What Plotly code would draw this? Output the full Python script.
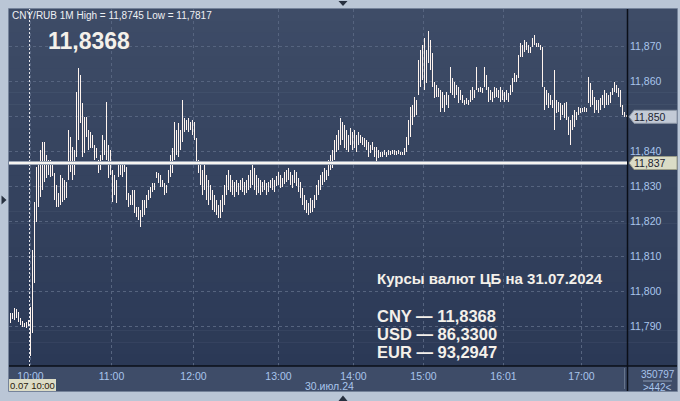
import plotly.graph_objects as go

# ---------------- data ----------------
HIGH = [
    11.7940, 11.7940, 11.7954, 11.7951, 11.7943, 11.7926, 11.7917, 11.7911, 11.7914, 11.7920,
    11.7957, 11.8120, 11.8257, 11.8357, 11.8363, 11.8405, 11.8428, 11.8428, 11.8391, 11.8377,
    11.8377, 11.8371, 11.8340, 11.8305, 11.8283, 11.8334, 11.8325, 11.8320, 11.8314, 11.8463,
    11.8443, 11.8414, 11.8405, 11.8571, 11.8640, 11.8620, 11.8540, 11.8500, 11.8500, 11.8463,
    11.8457, 11.8448, 11.8420, 11.8411, 11.8377, 11.8391, 11.8448, 11.8434, 11.8543, 11.8420,
    11.8405, 11.8348, 11.8334, 11.8320, 11.8363, 11.8368, 11.8363, 11.8368, 11.8357, 11.8283,
    11.8277, 11.8291, 11.8291, 11.8243, 11.8243, 11.8234, 11.8263, 11.8263, 11.8277, 11.8291,
    11.8300, 11.8311, 11.8311, 11.8343, 11.8340, 11.8334, 11.8320, 11.8311, 11.8305, 11.8348,
    11.8391, 11.8411, 11.8485, 11.8463, 11.8483, 11.8463, 11.8548, 11.8497, 11.8491, 11.8497,
    11.8485, 11.8491, 11.8485, 11.8440, 11.8377, 11.8363, 11.8348, 11.8363, 11.8334, 11.8320,
    11.8305, 11.8291, 11.8277, 11.8263, 11.8248, 11.8263, 11.8277, 11.8305, 11.8334, 11.8348,
    11.8334, 11.8320, 11.8314, 11.8320, 11.8311, 11.8320, 11.8325, 11.8314, 11.8320, 11.8334,
    11.8348, 11.8363, 11.8354, 11.8334, 11.8325, 11.8320, 11.8314, 11.8320, 11.8311, 11.8314,
    11.8320, 11.8325, 11.8320, 11.8331, 11.8343, 11.8334, 11.8325, 11.8343, 11.8348, 11.8354,
    11.8343, 11.8334, 11.8348, 11.8343, 11.8325, 11.8314, 11.8297, 11.8277, 11.8263, 11.8254,
    11.8268, 11.8263, 11.8277, 11.8305, 11.8320, 11.8334, 11.8343, 11.8354, 11.8348, 11.8377,
    11.8391, 11.8405, 11.8434, 11.8448, 11.8463, 11.8497, 11.8485, 11.8477, 11.8463, 11.8448,
    11.8468, 11.8457, 11.8463, 11.8448, 11.8457, 11.8448, 11.8443, 11.8440, 11.8434, 11.8428,
    11.8420, 11.8428, 11.8414, 11.8414, 11.8405, 11.8400, 11.8400, 11.8405, 11.8400, 11.8405,
    11.8403, 11.8405, 11.8405, 11.8403, 11.8405, 11.8400, 11.8400, 11.8411, 11.8443, 11.8491,
    11.8528, 11.8534, 11.8557, 11.8548, 11.8663, 11.8691, 11.8705, 11.8725, 11.8691, 11.8745,
    11.8720, 11.8683, 11.8600, 11.8591, 11.8583, 11.8577, 11.8571, 11.8563, 11.8571, 11.8563,
    11.8643, 11.8611, 11.8600, 11.8591, 11.8585, 11.8577, 11.8563, 11.8548, 11.8554, 11.8548,
    11.8577, 11.8585, 11.8577, 11.8643, 11.8583, 11.8585, 11.8583, 11.8643, 11.8620, 11.8585,
    11.8577, 11.8571, 11.8585, 11.8583, 11.8577, 11.8585, 11.8577, 11.8571, 11.8577, 11.8568,
    11.8591, 11.8611, 11.8625, 11.8620, 11.8677, 11.8711, 11.8705, 11.8720, 11.8714, 11.8705,
    11.8700, 11.8725, 11.8734, 11.8711, 11.8711, 11.8705, 11.8700, 11.8585, 11.8577, 11.8568,
    11.8563, 11.8548, 11.8634, 11.8548, 11.8543, 11.8540, 11.8534, 11.8540, 11.8543, 11.8500,
    11.8491, 11.8505, 11.8520, 11.8514, 11.8528, 11.8525, 11.8525, 11.8528, 11.8525, 11.8614,
    11.8597, 11.8577, 11.8557, 11.8548, 11.8548, 11.8554, 11.8563, 11.8577, 11.8568, 11.8563,
    11.8571, 11.8583, 11.8600, 11.8591, 11.8583, 11.8577, 11.8534, 11.8514, 11.8505,
]
LOW = [
    11.7911, 11.7923, 11.7920, 11.7926, 11.7914, 11.7905, 11.7900, 11.7900, 11.7897, 11.7903,
    11.7817, 11.7883, 11.8026, 11.8200, 11.8243, 11.8271, 11.8291, 11.8314, 11.8325, 11.8334,
    11.8328, 11.8331, 11.8263, 11.8243, 11.8243, 11.8248, 11.8257, 11.8263, 11.8268, 11.8320,
    11.8343, 11.8320, 11.8334, 11.8385, 11.8434, 11.8483, 11.8385, 11.8397, 11.8443, 11.8405,
    11.8411, 11.8411, 11.8377, 11.8383, 11.8340, 11.8348, 11.8377, 11.8391, 11.8377, 11.8325,
    11.8334, 11.8257, 11.8277, 11.8254, 11.8328, 11.8334, 11.8328, 11.8343, 11.8263, 11.8243,
    11.8248, 11.8248, 11.8225, 11.8214, 11.8205, 11.8185, 11.8214, 11.8220, 11.8240, 11.8263,
    11.8268, 11.8285, 11.8291, 11.8325, 11.8311, 11.8300, 11.8300, 11.8277, 11.8283, 11.8311,
    11.8328, 11.8340, 11.8377, 11.8391, 11.8385, 11.8405, 11.8428, 11.8457, 11.8463, 11.8457,
    11.8463, 11.8448, 11.8434, 11.8371, 11.8340, 11.8305, 11.8277, 11.8291, 11.8263, 11.8248,
    11.8263, 11.8234, 11.8228, 11.8220, 11.8211, 11.8211, 11.8228, 11.8248, 11.8277, 11.8291,
    11.8285, 11.8277, 11.8271, 11.8285, 11.8277, 11.8291, 11.8285, 11.8277, 11.8283, 11.8291,
    11.8297, 11.8305, 11.8291, 11.8277, 11.8283, 11.8277, 11.8285, 11.8291, 11.8277, 11.8285,
    11.8297, 11.8291, 11.8285, 11.8303, 11.8305, 11.8297, 11.8300, 11.8308, 11.8314, 11.8320,
    11.8305, 11.8297, 11.8311, 11.8303, 11.8285, 11.8268, 11.8248, 11.8234, 11.8225, 11.8220,
    11.8225, 11.8228, 11.8240, 11.8263, 11.8277, 11.8291, 11.8305, 11.8314, 11.8320, 11.8331,
    11.8348, 11.8354, 11.8377, 11.8400, 11.8405, 11.8420, 11.8434, 11.8411, 11.8405, 11.8400,
    11.8420, 11.8405, 11.8411, 11.8400, 11.8420, 11.8425, 11.8420, 11.8414, 11.8405, 11.8385,
    11.8397, 11.8405, 11.8385, 11.8371, 11.8383, 11.8385, 11.8385, 11.8391, 11.8385, 11.8391,
    11.8391, 11.8394, 11.8391, 11.8391, 11.8394, 11.8391, 11.8391, 11.8391, 11.8400, 11.8420,
    11.8443, 11.8477, 11.8500, 11.8505, 11.8563, 11.8585, 11.8605, 11.8577, 11.8597, 11.8654,
    11.8634, 11.8585, 11.8554, 11.8557, 11.8557, 11.8514, 11.8525, 11.8514, 11.8534, 11.8525,
    11.8568, 11.8563, 11.8554, 11.8563, 11.8540, 11.8548, 11.8540, 11.8534, 11.8537, 11.8534,
    11.8543, 11.8548, 11.8554, 11.8577, 11.8571, 11.8571, 11.8568, 11.8585, 11.8577, 11.8543,
    11.8548, 11.8543, 11.8554, 11.8557, 11.8554, 11.8543, 11.8548, 11.8543, 11.8548, 11.8543,
    11.8563, 11.8571, 11.8600, 11.8600, 11.8611, 11.8671, 11.8671, 11.8685, 11.8691, 11.8683,
    11.8683, 11.8700, 11.8705, 11.8700, 11.8700, 11.8691, 11.8585, 11.8520, 11.8534, 11.8525,
    11.8534, 11.8525, 11.8463, 11.8511, 11.8514, 11.8491, 11.8505, 11.8497, 11.8491, 11.8448,
    11.8420, 11.8463, 11.8471, 11.8491, 11.8505, 11.8511, 11.8514, 11.8514, 11.8514, 11.8540,
    11.8528, 11.8534, 11.8511, 11.8520, 11.8511, 11.8520, 11.8534, 11.8525, 11.8534, 11.8534,
    11.8540, 11.8563, 11.8571, 11.8568, 11.8557, 11.8528, 11.8505, 11.8500, 11.8500,
]
TICK_POS = [10, 50.5, 91.5, 134, 171.5, 206.5, 246.5, 285.5]
TICK_TXT = ["10:00", "11:00", "12:00", "13:00", "14:00", "15:00", "16:01", "17:00"]
Y_TICKS = [11.79, 11.80, 11.81, 11.82, 11.83, 11.84, 11.85, 11.86, 11.87]
DAY_START = 10
CB_RATE = 11.8368
LAST = 11.8500
TITLE = "CNY/RUB 1M High = 11,8745 Low = 11,7817"
HEADING = "Курсы валют ЦБ на 31.07.2024"
RATES = [("CNY", "11,8368"), ("USD", "86,3300"), ("EUR", "93,2947")]
DATE_LABEL = "30.июл.24"
CURSOR_LABEL = "0.07 10:00"
VOLUME = "350797"
COUNT = ">442<"

# ---------------- layout helpers ----------------
W, H = 680, 401
ML, MR, MT, MB = 9, 53, 9, 35
PW, PH = W - ML - MR, H - MT - MB
Y_RANGE = [11.7788, 11.8808]
X_RANGE = [-0.75, len(HIGH) - 0.75]   # 2 px per bar, bar edges on whole pixels


def px(x):
    return (x - ML) / PW


def py(y):
    return (H - MB - y) / PH


def ppath(pts):
    return "M " + " L ".join(f"{px(a):.5f},{py(b):.5f}" for a, b in pts) + " Z"


FONT = "Liberation Sans, Arial, sans-serif"
AXIS_BLUE = "#a9c5ec"
TEXT_WHITE = "#f4f0ea"

shapes = []
# gradient panel background (plot + right axis)
top_c, bot_c = (62, 76, 103), (43, 57, 86)
n = 30
for k in range(n):
    y0 = 9 + (366 - 9) * k / n
    y1 = 9 + (366 - 9) * (k + 1) / n + 0.5
    t = (k + 0.5) / n
    c = tuple(round(top_c[j] + (bot_c[j] - top_c[j]) * t) for j in range(3))
    shapes.append(dict(type="rect", xref="paper", yref="paper", x0=px(9), x1=px(677),
                       y0=py(y1), y1=py(y0), fillcolor=f"rgb{c}", line_width=0, layer="below"))
# bottom time-axis band
shapes.append(dict(type="rect", xref="paper", yref="paper", x0=px(9), x1=px(677),
                   y0=py(391), y1=py(366), fillcolor="#3e4c68", line_width=0, layer="below"))
# panel border
shapes.append(dict(type="rect", xref="paper", yref="paper", x0=px(8.5), x1=px(677.5),
                   y0=py(391.5), y1=py(8.5), line=dict(color="#75839a", width=1),
                   fillcolor="rgba(0,0,0,0)", layer="below"))
# separators
shapes.append(dict(type="line", xref="paper", yref="paper", x0=px(9), x1=px(677),
                   y0=py(366), y1=py(366), line=dict(color="#0b0f18", width=1.5)))
shapes.append(dict(type="line", xref="paper", yref="paper", x0=px(627.5), x1=px(627.5),
                   y0=py(391), y1=py(9), line=dict(color="#0b0f18", width=1.5)))
shapes.append(dict(type="line", xref="paper", yref="paper", x0=px(624.5), x1=px(624.5),
                   y0=py(389), y1=py(368), line=dict(color="#66748c", width=1)))
shapes.append(dict(type="line", xref="paper", yref="paper", x0=px(643), x1=px(672),
                   y0=py(381), y1=py(381), line=dict(color="#8a9ab4", width=1)))
# day separator (white dotted)
shapes.append(dict(type="line", xref="x", yref="paper", x0=DAY_START - 0.5, x1=DAY_START - 0.5,
                   y0=0, y1=1, line=dict(color="#e8e8ee", width=1, dash="2px,2px")))
# CB rate line
shapes.append(dict(type="line", xref="paper", yref="y", x0=0, x1=1, y0=CB_RATE, y1=CB_RATE,
                   line=dict(color="#98a2b4", width=4)))
shapes.append(dict(type="line", xref="paper", yref="y", x0=0, x1=1, y0=CB_RATE, y1=CB_RATE,
                   line=dict(color="#f6f4f0", width=2)))
# price markers on right axis
dpx = (Y_RANGE[1] - Y_RANGE[0]) / PH


def marker_path(val):
    pts = [(629, 0), (634, -6.5), (677, -6.5), (677, 6.5), (634, 6.5)]
    return "M " + " L ".join(f"{px(a):.5f},{val - b * dpx:.6f}" for a, b in pts) + " Z"


shapes.append(dict(type="path", xref="paper", yref="y", path=marker_path(LAST),
                   fillcolor="#c3cad6", line=dict(color="#8c96a6", width=1)))
shapes.append(dict(type="path", xref="paper", yref="y", path=marker_path(CB_RATE),
                   fillcolor="#dadcc6", line=dict(color="#9a9c88", width=1)))
# cursor date box
shapes.append(dict(type="rect", xref="paper", yref="paper", x0=px(9), x1=px(56),
                   y0=py(391), y1=py(379), fillcolor="#dcdcc6", line_width=0))
# small triangles on the frame
shapes.append(dict(type="path", xref="paper", yref="paper",
                   path=ppath([(338.5, 1), (347.5, 1), (343, 6)]), fillcolor="#27303f", line_width=0))
shapes.append(dict(type="path", xref="paper", yref="paper",
                   path=ppath([(338.5, 401), (347.5, 401), (343, 395.5)]), fillcolor="#27303f", line_width=0))
shapes.append(dict(type="path", xref="paper", yref="paper",
                   path=ppath([(1.5, 195.5), (1.5, 204.5), (6.5, 200)]), fillcolor="#27303f", line_width=0))

annotations = []


def ann(text, x, y, size, color, xanchor="left", bold=False, yref="paper", xref="paper"):
    annotations.append(dict(text=f"<b>{text}</b>" if bold else text, x=x, y=y, xref=xref, yref=yref,
                            xanchor=xanchor, yanchor="middle", showarrow=False,
                            font=dict(family=FONT, size=size, color=color)))


def fmt(v, d):
    return f"{v:.{d}f}".replace(".", ",")


ann(TITLE, px(9.5), py(15.5), 10, "#eef0f4")
ann(fmt(CB_RATE, 4), px(46), py(41), 23, TEXT_WHITE, bold=True)
ann(HEADING, px(375), py(278), 15, TEXT_WHITE, bold=True)
for k, (cur, val) in enumerate(RATES):
    ann(f"{cur} — {val}", px(375), py(315.5 + 18 * k), 16.5, TEXT_WHITE, bold=True)
ann(DATE_LABEL, px(329), py(386), 10.5, AXIS_BLUE, xanchor="center")
ann(CURSOR_LABEL, px(32.5), py(385.5), 9.5, "#2a200c", xanchor="center")
ann(VOLUME, px(657.5), py(374), 10, AXIS_BLUE, xanchor="center")
ann(COUNT, px(657.5), py(387.5), 10, AXIS_BLUE, xanchor="center")
ann(fmt(LAST, 3), px(632), LAST, 10.5, "#1c2230", yref="y")
ann(fmt(CB_RATE, 3), px(632), CB_RATE, 10.5, "#1c2230", yref="y")

fig = go.Figure()
fig.add_trace(go.Bar(
    x=list(range(len(HIGH))),
    y=[h - l for h, l in zip(HIGH, LOW)],
    base=LOW,
    width=0.45,
    marker=dict(color="#fff4ee", line=dict(width=0)),
    hoverinfo="skip",
))

# tick label hidden where the last-price marker covers it (as in the reference)
y_ticktext = ["" if abs(v - LAST) < 1e-9 else fmt(v, 3) for v in Y_TICKS]

fig.update_layout(
    width=W, height=H,
    margin=dict(l=ML, r=MR, t=MT, b=MB, pad=0),
    paper_bgcolor="#bac6d6",
    plot_bgcolor="rgba(0,0,0,0)",
    showlegend=False,
    hovermode=False,
    shapes=shapes,
    annotations=annotations,
    xaxis=dict(range=X_RANGE, tickmode="array", tickvals=TICK_POS, ticktext=TICK_TXT,
               showgrid=True, gridcolor="#56647f", griddash="3px,3px", gridwidth=1,
               zeroline=False, showline=False, ticks="", ticklabelstandoff=2,
               tickfont=dict(family=FONT, size=10.5, color=AXIS_BLUE), fixedrange=True),
    yaxis=dict(range=Y_RANGE, side="right", tickmode="array", tickvals=Y_TICKS,
               ticktext=y_ticktext,
               showgrid=True, gridcolor="#56647f", griddash="3px,3px", gridwidth=1,
               zeroline=False, showline=False, ticks="", ticklabelstandoff=2,
               tickfont=dict(family=FONT, size=10.5, color=AXIS_BLUE), fixedrange=True),
    bargap=0,
)

fig.write_html("out.html", config={"displayModeBar": False},
               post_script="document.body.style.margin='0';document.body.style.overflow='hidden';")
